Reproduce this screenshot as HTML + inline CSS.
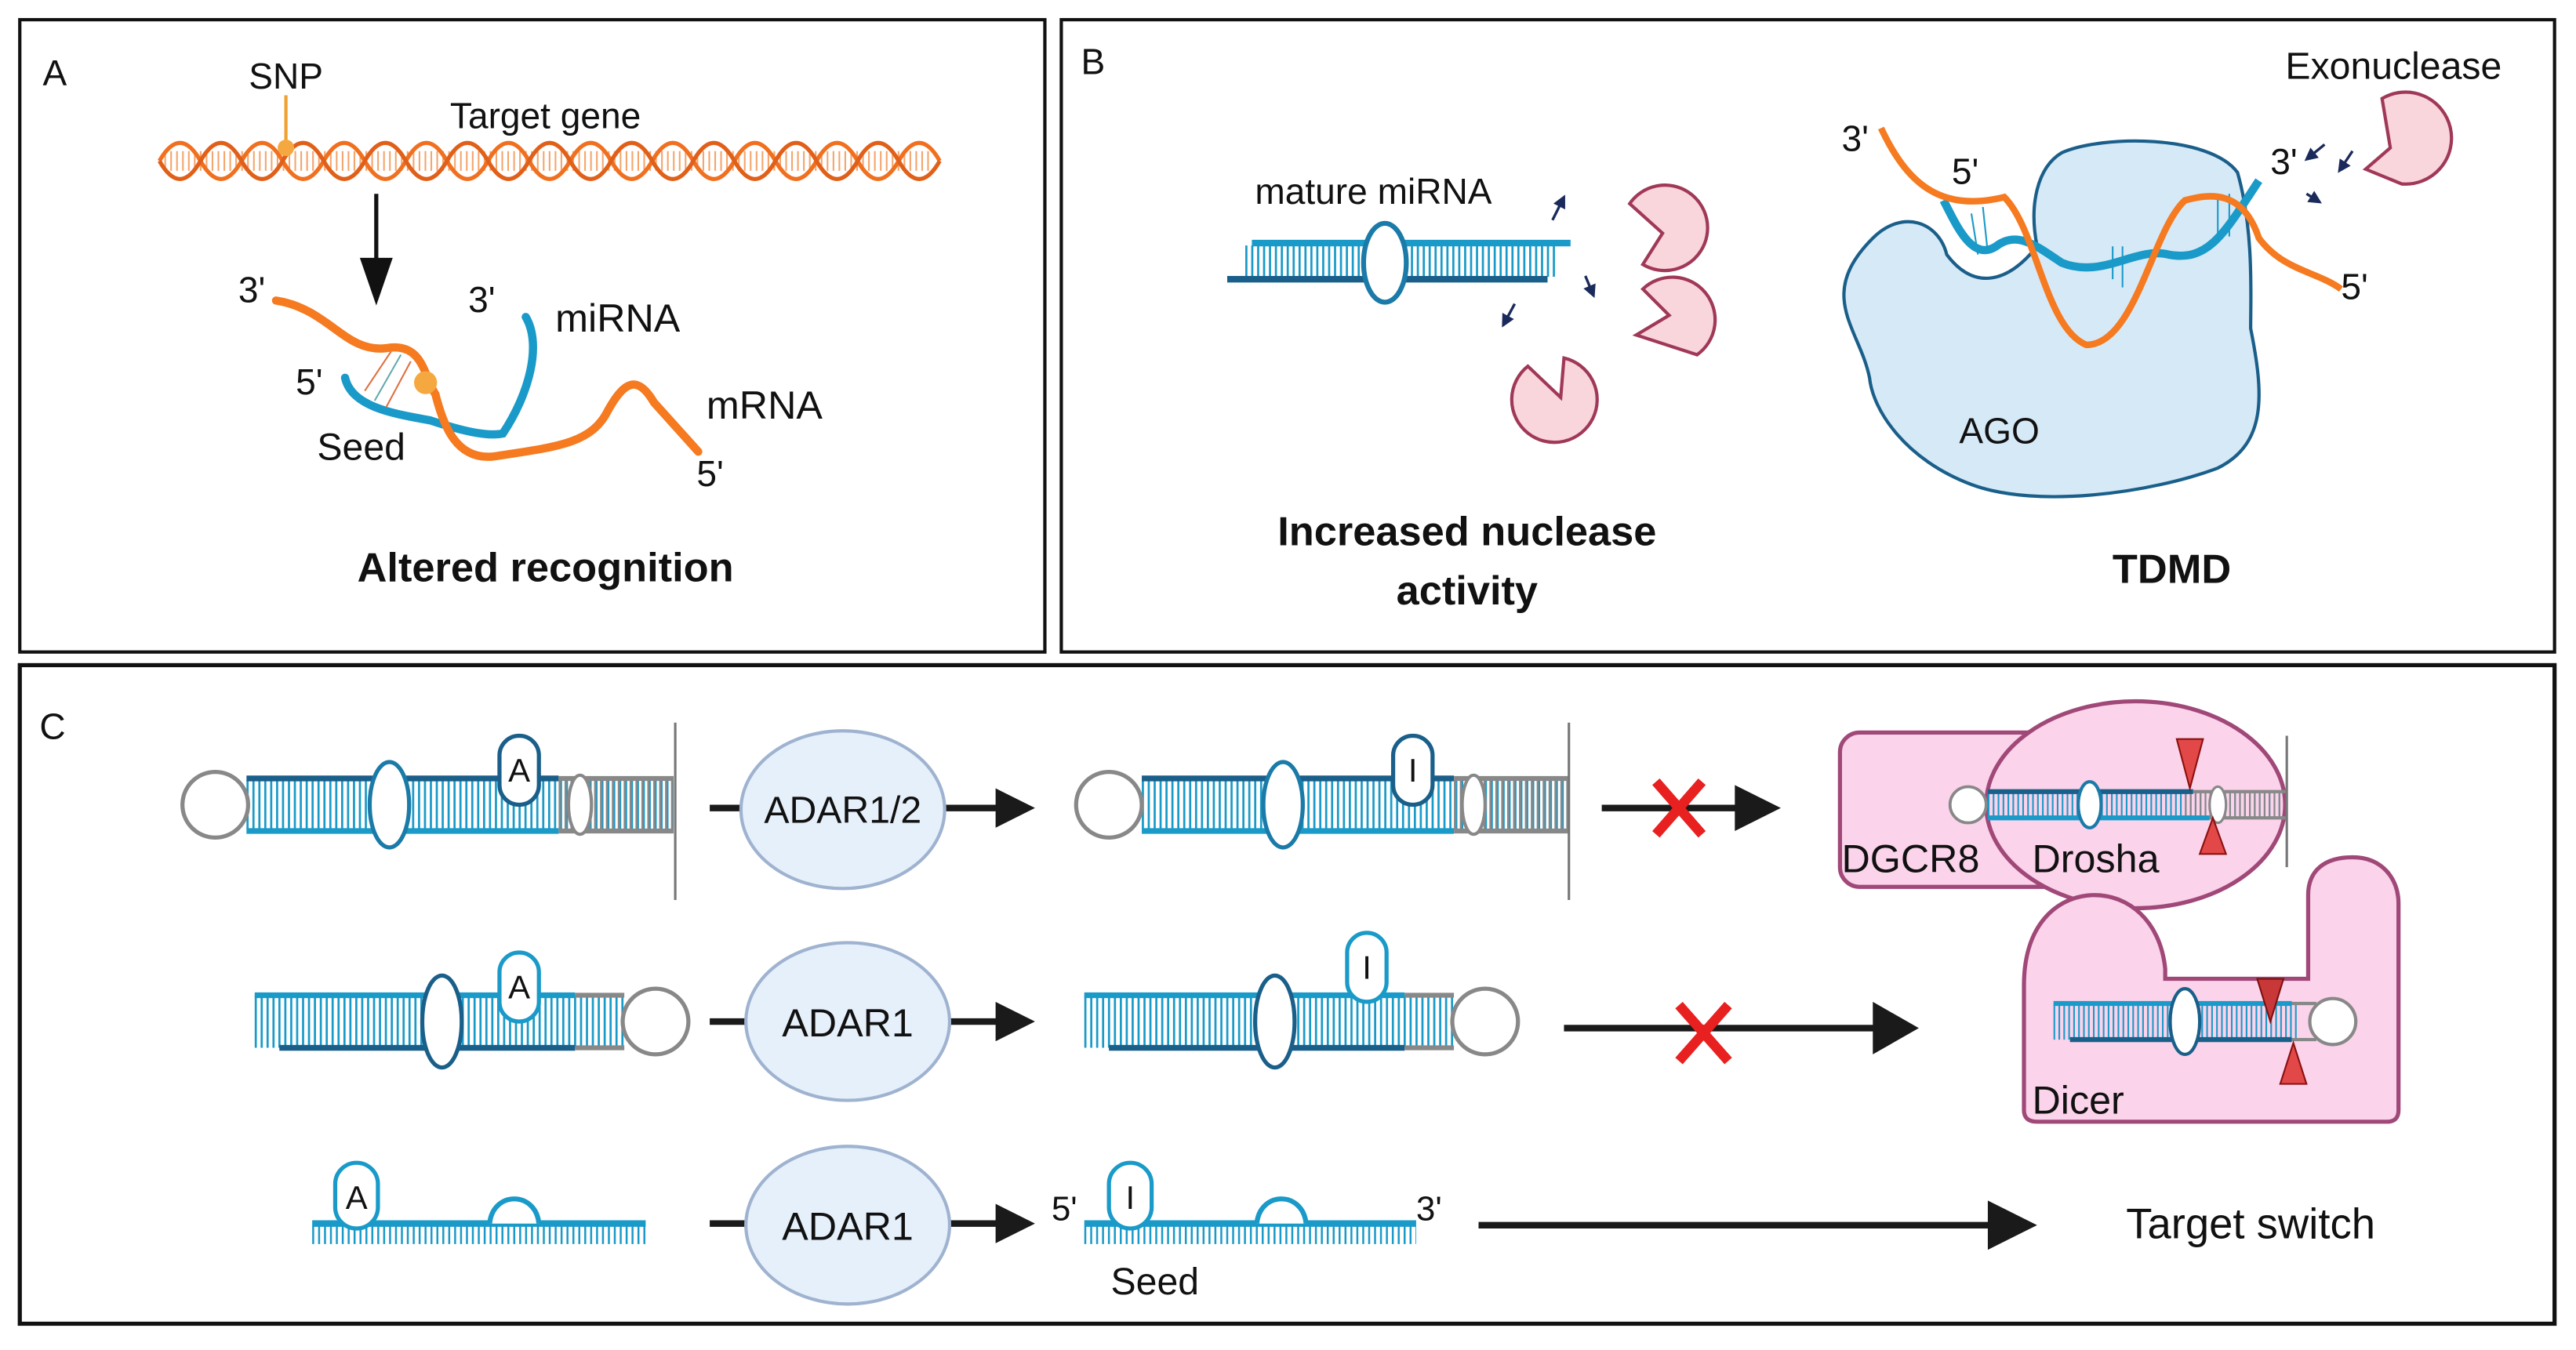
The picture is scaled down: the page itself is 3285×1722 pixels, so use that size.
<!DOCTYPE html>
<html><head><meta charset="utf-8"><style>
html,body{margin:0;padding:0;background:#fff;}
svg{display:block;}
text{font-family:"Liberation Sans",sans-serif;fill:#111;}
.b{font-weight:bold;}
</style></head><body>
<svg width="3285" height="1722" viewBox="0 0 1568 822" xmlns="http://www.w3.org/2000/svg">
<defs>
<marker id="sa" markerWidth="5" markerHeight="5" refX="4" refY="2.5" orient="auto"><path d="M0,0 L5,2.5 L0,5z" fill="#1a2a5a"/></marker>
</defs>
<rect x="0" y="0" width="1568" height="822" fill="#fff"/>
<rect x="12" y="12" width="624" height="385" fill="none" stroke="#111" stroke-width="2"/>
<rect x="646" y="12" width="909" height="385" fill="none" stroke="#111" stroke-width="2"/>
<rect x="12" y="405" width="1543" height="401" fill="none" stroke="#111" stroke-width="2.5"/>

<!-- ===== Panel A ===== -->
<text x="26" y="52" font-size="22">A</text>
<text x="174" y="54" font-size="22" text-anchor="middle">SNP</text>
<text x="332" y="78" font-size="22" text-anchor="middle">Target gene</text>
<line x1="174" y1="58" x2="174" y2="90" stroke="#f0a030" stroke-width="2"/>
<line x1="100" y1="98" x2="568" y2="98" stroke="#f08030" stroke-width="12" stroke-dasharray="1 2.6" opacity="0.7"/>
<path d="M97,98 q12.5,-22 25,0 t25,0 t25,0 t25,0 t25,0 t25,0 t25,0 t25,0 t25,0 t25,0 t25,0 t25,0 t25,0 t25,0 t25,0 t25,0 t25,0 t25,0 t25,0" fill="none" stroke="#f07020" stroke-width="2.5"/>
<path d="M97,98 q12.5,22 25,0 t25,0 t25,0 t25,0 t25,0 t25,0 t25,0 t25,0 t25,0 t25,0 t25,0 t25,0 t25,0 t25,0 t25,0 t25,0 t25,0 t25,0 t25,0" fill="none" stroke="#e0601a" stroke-width="2.5"/>
<circle cx="174" cy="90" r="5" fill="#f5a840"/>
<line x1="229" y1="118" x2="229" y2="160" stroke="#111" stroke-width="2.5"/>
<path d="M219,157 L239,157 L229,186z" fill="#111"/>
<path d="M210,230 C214,248 240,252 262,256 C280,262 296,266 306,264 C322,240 330,210 320,193" fill="none" stroke="#1a9ac8" stroke-width="5" stroke-linecap="round"/>
<g stroke-width="1"><line x1="222" y1="238" x2="238" y2="214" stroke="#e07040"/><line x1="228" y1="244" x2="244" y2="216" stroke="#6aa"/><line x1="235" y1="248" x2="250" y2="220" stroke="#e07040"/></g>
<path d="M168,183 C200,188 210,215 235,212 C258,208 258,230 265,240 C270,260 278,280 300,278 C340,272 360,270 370,250 C380,232 388,228 398,245 L425,275" fill="none" stroke="#f57a20" stroke-width="5" stroke-linecap="round"/>
<circle cx="259" cy="233" r="7" fill="#f5a840"/>
<text x="145" y="184" font-size="22">3'</text>
<text x="180" y="240" font-size="22">5'</text>
<text x="285" y="190" font-size="22">3'</text>
<text x="338" y="202" font-size="24">miRNA</text>
<text x="430" y="255" font-size="24">mRNA</text>
<text x="424" y="296" font-size="22">5'</text>
<text x="193" y="280" font-size="23">Seed</text>
<text x="332" y="354" font-size="25" class="b" text-anchor="middle">Altered recognition</text>

<!-- ===== Panel B ===== -->
<text x="658" y="45" font-size="22">B</text>
<text x="1457" y="48" font-size="23" text-anchor="middle">Exonuclease</text>
<text x="836" y="124" font-size="22" text-anchor="middle">mature miRNA</text>
<line x1="758" y1="159" x2="948" y2="159" stroke="#1a9ac8" stroke-width="19" stroke-dasharray="1.3 2.3"/>
<line x1="762" y1="148" x2="956" y2="148" stroke="#1a9ac8" stroke-width="4"/>
<line x1="747" y1="170" x2="942" y2="170" stroke="#1a5f8a" stroke-width="4"/>
<ellipse cx="843" cy="160" rx="13" ry="24" fill="#fff" stroke="#1a7aa8" stroke-width="3"/>
<g fill="#f9d5dc" stroke="#a03858" stroke-width="2">
<path d="M1000,161 A26,26 0 1 0 992,124 L1012,142 z"/>
<path d="M1033,216 A26,26 0 1 0 1000,176 L1016,192 L996,204 z"/>
<path d="M930,223 A26,26 0 1 0 952,218 L950,242 z"/>
<path d="M1462,112 A28,28 0 1 0 1450,60 L1455,90 L1440,103 z"/>
</g>
<g stroke="#1a2a5a" stroke-width="1.6" fill="none" marker-end="url(#sa)">
<line x1="945" y1="134" x2="952" y2="120"/>
<line x1="965" y1="168" x2="970" y2="180"/>
<line x1="922" y1="185" x2="915" y2="198"/>
<line x1="1415" y1="88" x2="1404" y2="97"/>
<line x1="1432" y1="92" x2="1424" y2="104"/>
<line x1="1404" y1="118" x2="1412" y2="123"/>
</g>
<path d="M1255,93 C1280,82 1345,82 1362,105 C1372,140 1370,180 1370,200 C1378,240 1380,270 1350,285 C1310,300 1240,310 1200,295 C1160,280 1140,250 1138,230 C1132,200 1105,180 1140,145 C1158,127 1180,135 1185,155 C1200,175 1220,175 1240,150 C1235,125 1240,102 1255,93z" fill="#d6e9f7" stroke="#1a5f8a" stroke-width="2"/>
<path d="M1183,122 C1190,135 1200,160 1215,150 C1228,140 1240,150 1255,160 C1280,170 1300,150 1320,155 C1345,160 1355,140 1375,110" fill="none" stroke="#1a9ac8" stroke-width="5"/>
<g stroke="#1a9ac8" stroke-width="1"><line x1="1200" y1="130" x2="1204" y2="155"/><line x1="1207" y1="126" x2="1210" y2="154"/><line x1="1286" y1="150" x2="1286" y2="170"/><line x1="1292" y1="150" x2="1292" y2="175"/><line x1="1350" y1="118" x2="1350" y2="148"/><line x1="1357" y1="118" x2="1357" y2="144"/></g>
<path d="M1145,78 C1160,110 1180,130 1220,120 C1240,140 1245,200 1270,210 C1300,210 1310,140 1330,122 C1345,118 1365,115 1375,145 C1390,165 1410,165 1425,176" fill="none" stroke="#f57a20" stroke-width="4"/>
<text x="1121" y="92" font-size="22">3'</text>
<text x="1188" y="112" font-size="22">5'</text>
<text x="1382" y="106" font-size="22">3'</text>
<text x="1425" y="182" font-size="22">5'</text>
<text x="1217" y="270" font-size="22" text-anchor="middle">AGO</text>
<text x="893" y="332" font-size="25" class="b" text-anchor="middle">Increased nuclease</text>
<text x="893" y="368" font-size="25" class="b" text-anchor="middle">activity</text>
<text x="1322" y="355" font-size="25" class="b" text-anchor="middle">TDMD</text>

<!-- ===== Panel C ===== -->
<text x="24" y="450" font-size="22">C</text>
<line x1="150" y1="490" x2="410" y2="490" stroke="#1a9ac8" stroke-width="30" stroke-dasharray="1.3 2.3"/>
<line x1="340" y1="490" x2="410" y2="490" stroke="#888" stroke-width="30" stroke-dasharray="1.3 2.3"/>
<line x1="150" y1="474" x2="340" y2="474" stroke="#1a5f8a" stroke-width="3.5"/>
<line x1="150" y1="506" x2="340" y2="506" stroke="#1a9ac8" stroke-width="3.5"/>
<line x1="340" y1="474" x2="410" y2="474" stroke="#888" stroke-width="3"/>
<line x1="340" y1="506" x2="410" y2="506" stroke="#888" stroke-width="3"/>
<circle cx="131" cy="490" r="20" fill="#fff" stroke="#888" stroke-width="2.5"/>
<ellipse cx="237" cy="490" rx="12" ry="26" fill="#fff" stroke="#1a7aa8" stroke-width="2.5"/>
<ellipse cx="353" cy="490" rx="7" ry="18" fill="#fff" stroke="#888" stroke-width="2"/>
<rect x="304" y="448" width="24" height="42" rx="12" fill="#fff" stroke="#1a5f8a" stroke-width="2.5"/>
<text x="316" y="476" font-size="20" text-anchor="middle">A</text>
<line x1="411" y1="440" x2="411" y2="548" stroke="#777" stroke-width="1.5"/>
<line x1="432" y1="492" x2="612" y2="492" stroke="#1a1a1a" stroke-width="4"/>
<path d="M606,480 L630,492 L606,504z" fill="#1a1a1a"/>
<ellipse cx="513" cy="493" rx="62" ry="48" fill="#e6f0fb" stroke="#9fb3d0" stroke-width="2"/>
<text x="513" y="501" font-size="23" text-anchor="middle">ADAR1/2</text>
<line x1="695" y1="490" x2="955" y2="490" stroke="#1a9ac8" stroke-width="30" stroke-dasharray="1.3 2.3"/>
<line x1="885" y1="490" x2="955" y2="490" stroke="#888" stroke-width="30" stroke-dasharray="1.3 2.3"/>
<line x1="695" y1="474" x2="885" y2="474" stroke="#1a5f8a" stroke-width="3.5"/>
<line x1="695" y1="506" x2="885" y2="506" stroke="#1a9ac8" stroke-width="3.5"/>
<line x1="885" y1="474" x2="955" y2="474" stroke="#888" stroke-width="3"/>
<line x1="885" y1="506" x2="955" y2="506" stroke="#888" stroke-width="3"/>
<circle cx="675" cy="490" r="20" fill="#fff" stroke="#888" stroke-width="2.5"/>
<ellipse cx="781" cy="490" rx="12" ry="26" fill="#fff" stroke="#1a7aa8" stroke-width="2.5"/>
<ellipse cx="897" cy="490" rx="7" ry="18" fill="#fff" stroke="#888" stroke-width="2"/>
<rect x="848" y="448" width="24" height="42" rx="12" fill="#fff" stroke="#1a5f8a" stroke-width="2.5"/>
<text x="860" y="476" font-size="20" text-anchor="middle">I</text>
<line x1="955" y1="440" x2="955" y2="548" stroke="#777" stroke-width="1.5"/>
<line x1="975" y1="492" x2="1062" y2="492" stroke="#1a1a1a" stroke-width="4"/>
<path d="M1056,478 L1084,492 L1056,506z" fill="#1a1a1a"/>
<g stroke="#e82020" stroke-width="6"><line x1="1008" y1="476" x2="1036" y2="508"/><line x1="1036" y1="476" x2="1008" y2="508"/></g>
<rect x="1120" y="446" width="150" height="94" rx="12" fill="#fbd3ea" stroke="#a04878" stroke-width="2.5"/>
<ellipse cx="1300" cy="490" rx="91" ry="63" fill="#fbd3ea" stroke="#a04878" stroke-width="2.5"/>
<line x1="1210" y1="490" x2="1390" y2="490" stroke="#1a9ac8" stroke-width="15" stroke-dasharray="1 2"/>
<line x1="1330" y1="490" x2="1390" y2="490" stroke="#888" stroke-width="15" stroke-dasharray="1 2"/>
<line x1="1210" y1="482" x2="1335" y2="482" stroke="#1a5f8a" stroke-width="3"/>
<line x1="1210" y1="498" x2="1345" y2="498" stroke="#1a9ac8" stroke-width="3"/>
<line x1="1335" y1="482" x2="1392" y2="482" stroke="#888" stroke-width="2"/>
<line x1="1345" y1="498" x2="1392" y2="498" stroke="#888" stroke-width="2"/>
<circle cx="1198" cy="490" r="11" fill="#fff" stroke="#888" stroke-width="1.8"/>
<ellipse cx="1272" cy="490" rx="7" ry="14" fill="#fff" stroke="#1a7aa8" stroke-width="2"/>
<ellipse cx="1350" cy="490" rx="5" ry="11" fill="#fff" stroke="#888" stroke-width="1.5"/>
<path d="M1325,450 L1341,450 L1333,480z" fill="#e24848" stroke="#8a1010" stroke-width="1"/>
<path d="M1339,520 L1355,520 L1347,498z" fill="#e24848" stroke="#8a1010" stroke-width="1"/>
<line x1="1392" y1="448" x2="1392" y2="528" stroke="#777" stroke-width="1.5"/>
<text x="1121" y="531" font-size="24">DGCR8</text>
<text x="1237" y="531" font-size="24">Drosha</text>
<line x1="155" y1="622" x2="380" y2="622" stroke="#1a9ac8" stroke-width="32" stroke-dasharray="1.3 2.3"/>
<line x1="155" y1="606" x2="350" y2="606" stroke="#1a9ac8" stroke-width="3.5"/>
<line x1="170" y1="638" x2="350" y2="638" stroke="#1a5f8a" stroke-width="3.5"/>
<line x1="350" y1="606" x2="380" y2="606" stroke="#888" stroke-width="3"/>
<line x1="350" y1="638" x2="380" y2="638" stroke="#888" stroke-width="3"/>
<circle cx="399" cy="622" r="20" fill="#fff" stroke="#888" stroke-width="2.5"/>
<ellipse cx="269" cy="622" rx="12" ry="28" fill="#fff" stroke="#1a5f8a" stroke-width="2.5"/>
<rect x="304" y="580" width="24" height="42" rx="12" fill="#fff" stroke="#1a9ac8" stroke-width="2.5"/>
<text x="316" y="608" font-size="20" text-anchor="middle">A</text>
<line x1="432" y1="622" x2="612" y2="622" stroke="#1a1a1a" stroke-width="4"/>
<path d="M606,610 L630,622 L606,634z" fill="#1a1a1a"/>
<ellipse cx="516" cy="622" rx="62" ry="48" fill="#e6f0fb" stroke="#9fb3d0" stroke-width="2"/>
<text x="516" y="631" font-size="24" text-anchor="middle">ADAR1</text>
<line x1="660" y1="622" x2="885" y2="622" stroke="#1a9ac8" stroke-width="32" stroke-dasharray="1.3 2.3"/>
<line x1="660" y1="606" x2="855" y2="606" stroke="#1a9ac8" stroke-width="3.5"/>
<line x1="675" y1="638" x2="855" y2="638" stroke="#1a5f8a" stroke-width="3.5"/>
<line x1="855" y1="606" x2="885" y2="606" stroke="#888" stroke-width="3"/>
<line x1="855" y1="638" x2="885" y2="638" stroke="#888" stroke-width="3"/>
<circle cx="904" cy="622" r="20" fill="#fff" stroke="#888" stroke-width="2.5"/>
<ellipse cx="776" cy="622" rx="12" ry="28" fill="#fff" stroke="#1a5f8a" stroke-width="2.5"/>
<rect x="820" y="568" width="24" height="42" rx="12" fill="#fff" stroke="#1a9ac8" stroke-width="2.5"/>
<text x="832" y="596" font-size="20" text-anchor="middle">I</text>
<line x1="952" y1="626" x2="1146" y2="626" stroke="#1a1a1a" stroke-width="4"/>
<path d="M1140,610 L1168,626 L1140,642z" fill="#1a1a1a"/>
<g stroke="#e82020" stroke-width="6"><line x1="1022" y1="612" x2="1052" y2="646"/><line x1="1052" y1="612" x2="1022" y2="646"/></g>
<path d="M1232,600 C1232,560 1255,545 1275,545 C1295,545 1315,560 1318,590 L1318,596 L1405,596 L1405,545 C1405,530 1415,522 1432,522 C1450,522 1460,535 1460,550 L1460,676 Q1460,683 1453,683 L1240,683 Q1232,683 1232,676 Z" fill="#fbd3ea" stroke="#a04878" stroke-width="2.5"/>
<line x1="1250" y1="622" x2="1400" y2="622" stroke="#1a9ac8" stroke-width="22" stroke-dasharray="1 2"/>
<line x1="1250" y1="611" x2="1395" y2="611" stroke="#1a9ac8" stroke-width="3"/>
<line x1="1260" y1="633" x2="1395" y2="633" stroke="#1a5f8a" stroke-width="3"/>
<line x1="1395" y1="611" x2="1410" y2="611" stroke="#888" stroke-width="2"/>
<line x1="1395" y1="633" x2="1410" y2="633" stroke="#888" stroke-width="2"/>
<circle cx="1420" cy="622" r="14" fill="#fff" stroke="#888" stroke-width="2"/>
<ellipse cx="1330" cy="622" rx="9" ry="20" fill="#fff" stroke="#1a5f8a" stroke-width="2"/>
<path d="M1374,596 L1390,596 L1382,622z" fill="#c83838" stroke="#7a1010" stroke-width="1"/>
<path d="M1388,660 L1404,660 L1396,635z" fill="#e24848" stroke="#8a1010" stroke-width="1"/>
<text x="1237" y="678" font-size="24">Dicer</text>
<line x1="190" y1="745" x2="393" y2="745" stroke="#1a9ac8" stroke-width="4"/>
<line x1="190" y1="752" x2="393" y2="752" stroke="#1a9ac8" stroke-width="11" stroke-dasharray="1.2 2.4"/>
<path d="M298,745 C300,725 326,725 328,745" fill="#fff" stroke="#1a9ac8" stroke-width="3"/>
<rect x="204" y="708" width="26" height="40" rx="13" fill="#fff" stroke="#1a9ac8" stroke-width="2.5"/>
<text x="217" y="736" font-size="20" text-anchor="middle">A</text>
<line x1="432" y1="745" x2="612" y2="745" stroke="#1a1a1a" stroke-width="4"/>
<path d="M606,733 L630,745 L606,757z" fill="#1a1a1a"/>
<ellipse cx="516" cy="746" rx="62" ry="48" fill="#e6f0fb" stroke="#9fb3d0" stroke-width="2"/>
<text x="516" y="755" font-size="24" text-anchor="middle">ADAR1</text>
<line x1="660" y1="745" x2="862" y2="745" stroke="#1a9ac8" stroke-width="4"/>
<line x1="660" y1="752" x2="862" y2="752" stroke="#1a9ac8" stroke-width="11" stroke-dasharray="1.2 2.4"/>
<path d="M765,745 C767,725 793,725 795,745" fill="#fff" stroke="#1a9ac8" stroke-width="3"/>
<rect x="675" y="708" width="26" height="40" rx="13" fill="#fff" stroke="#1a9ac8" stroke-width="2.5"/>
<text x="688" y="736" font-size="20" text-anchor="middle">I</text>
<text x="640" y="743" font-size="21">5'</text>
<text x="862" y="743" font-size="21">3'</text>
<text x="703" y="788" font-size="23" text-anchor="middle">Seed</text>
<line x1="900" y1="746" x2="1215" y2="746" stroke="#1a1a1a" stroke-width="4"/>
<path d="M1210,731 L1240,746 L1210,761z" fill="#1a1a1a"/>
<text x="1370" y="754" font-size="26" text-anchor="middle">Target switch</text>
</svg>
</body></html>
